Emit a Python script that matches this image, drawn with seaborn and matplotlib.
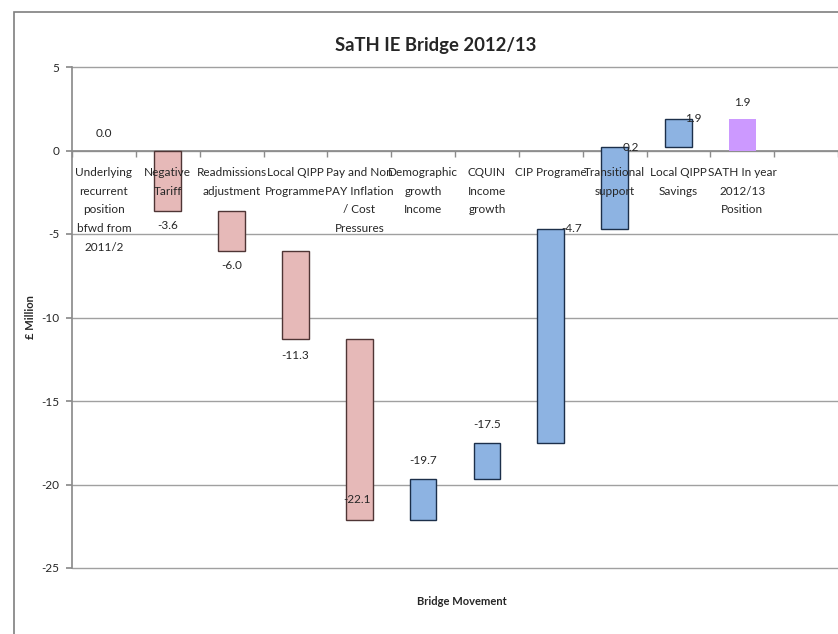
import numpy as np
import pandas as pd
import seaborn as sns
import matplotlib.pyplot as plt
from matplotlib.patches import Rectangle

# Bridge steps (running total before and after each movement, £m)
categories = [
    "Underlying\nrecurrent\nposition\nbfwd from\n2011/2",
    "Negative\nTariff",
    "Readmissions\nadjustment",
    "Local QIPP\nProgramme",
    "Pay and Non\nPAY Inflation\n/ Cost\nPressures",
    "Demographic\ngrowth\nIncome",
    "CQUIN\nIncome\ngrowth",
    "CIP Programe",
    "Transitional\nsupport",
    "Local QIPP\nSavings",
    "SATH In year\n2012/13\nPosition",
]
start_values = [0.0, 0.0, -3.6, -6.0, -11.3, -22.1, -19.7, -17.5, -4.7, 0.2, 0.0]
end_values = [0.0, -3.6, -6.0, -11.3, -22.1, -19.7, -17.5, -4.7, 0.2, 1.9, 1.9]
movement = ["total", "decrease", "decrease", "decrease", "decrease",
            "increase", "increase", "increase", "increase", "increase", "total"]

# where each value label sits relative to its bar end (data units)
label_dx = [0, 0, 0, 0, -0.03, 0, 0, 0.33, 0.25, 0.24, 0]
label_dy = [1.0, -0.9, -0.9, -1.0, 1.2, 1.15, 1.1, 0, 0, 0, 1.0]

df = pd.DataFrame({"category": categories, "start": start_values,
                   "end": end_values, "kind": movement})
df["height"] = df["end"] - df["start"]

sns.set_theme(style="white")
plt.rcParams['font.family'] = ['Lato', 'DejaVu Sans']
plt.rcParams['axes.unicode_minus'] = False

fig = plt.figure(figsize=(8.38, 6.34), dpi=100)
ax = fig.add_axes([72 / 838, 1 - 568 / 634, 766 / 838, 501 / 634])

order = categories + [" "]
styles = {
    "decrease": ("#E6B9B8", "#4F3535", 1.0),
    "increase": ("#8DB3E2", "#1C2F4A", 1.0),
    "total": ("#CC99FF", "none", 0),
}
for kind, (face, edge, lw) in styles.items():
    sub = df[df["kind"] == kind]
    sns.barplot(data=sub, x="category", y="height", order=order,
                bottom=sub["start"].to_numpy(), color=face, saturation=1,
                edgecolor=edge, linewidth=lw, width=0.42, errorbar=None, ax=ax)

grey = "#8C8C8C"
ax.set_xlim(-0.5, 11.5)
ax.set_ylim(-25, 5)
ax.set_yticks(np.arange(-25, 6, 5))
# gridlines behind the bars, axis (and its labels) above them
ax.set_axisbelow(False)
ax.grid(False)
for yv in ax.get_yticks():
    ax.axhline(yv, color="#A0A0A0", linewidth=1, zorder=0.5, clip_on=False)
for s in ["top", "right"]:
    ax.spines[s].set_visible(False)
ax.spines["bottom"].set_position(("data", 0))
ax.spines["bottom"].set_color(grey)
ax.spines["bottom"].set_zorder(0.6)
ax.spines["left"].set_color(grey)

ax.set_xticks(range(len(categories)))
ax.set_xticklabels(categories, fontsize=8.5, linespacing=1.85)
ax.set_xticks(np.arange(-0.5, 12, 1), minor=True)
ax.tick_params(axis="x", which="major", bottom=True, length=0, pad=12)
ax.tick_params(axis="x", which="minor", bottom=True, length=4, color=grey)
ax.tick_params(axis="y", left=True, length=4, color=grey, pad=5, labelsize=8.5)

for i, v in enumerate(end_values):
    ax.text(i + label_dx[i], v + label_dy[i], f"{v:.1f}", ha="center",
            va="center", fontsize=8.5)

ax.set_xlabel("Bridge Movement", fontweight="bold", fontsize=8)
ax.xaxis.set_label_coords(0.509, -0.055)
ax.set_ylabel("£ Million", fontweight="bold", fontsize=8)
ax.yaxis.set_label_coords(-0.047, 0.5)

fig.text(436 / 838, 1 - 45 / 634, "SaTH IE Bridge 2012/13", ha="center",
         va="center", fontsize=13.3, fontweight="bold")

fig.add_artist(Rectangle((14 / 838, -0.1), 1.2, 1 - 12 / 634 + 0.1,
                         transform=fig.transFigure, fill=False,
                         edgecolor="#7F7F7F", linewidth=1.2))

fig.savefig("out.png", dpi=100)
